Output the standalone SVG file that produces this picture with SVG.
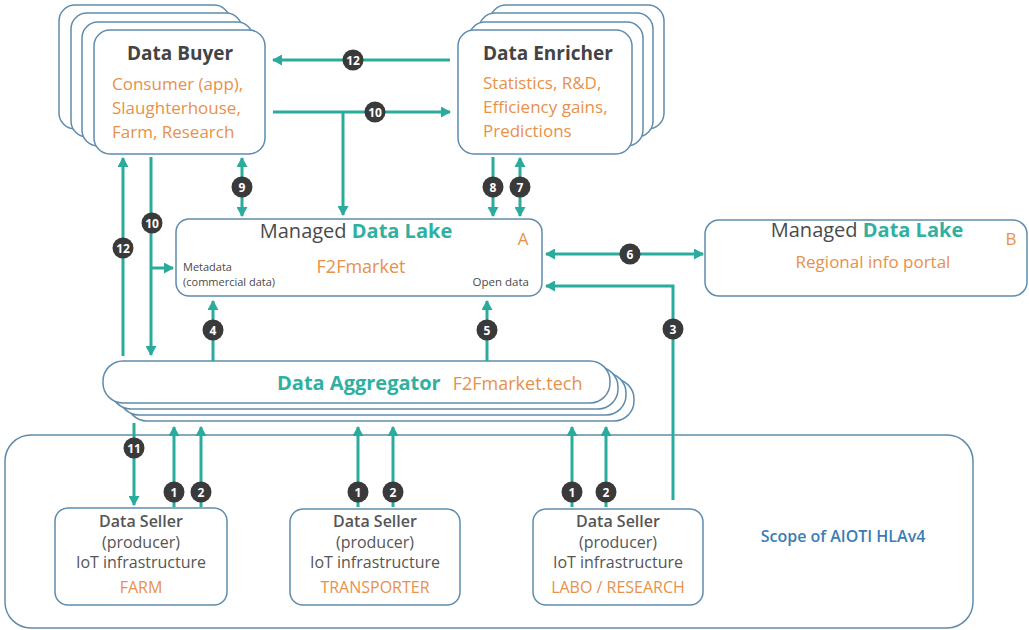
<svg xmlns="http://www.w3.org/2000/svg" width="1029" height="630" viewBox="0 0 1029 630">
<defs>
<marker id="ah" markerUnits="userSpaceOnUse" markerWidth="10" markerHeight="11" refX="9" refY="5.5" orient="auto-start-reverse">
<path d="M0,0 L10,5.5 L0,11 z" fill="#2aab9c"/>
</marker>
</defs>
<style>
.box{fill:#fff;stroke:#5f8cad;stroke-width:1.5}
.ln{fill:none;stroke:#2aab9c;stroke-width:3}
.b circle{fill:#3a3a3a}
.b text{fill:#fff;font-family:"Open Sans","DejaVu Sans",sans-serif;font-weight:700;font-size:12px;text-anchor:middle}
.t{font-family:"Open Sans","Noto Sans",sans-serif}
.ttl{font-weight:700;fill:#444;font-size:19px}
.tl{fill:#2fb0a0;font-weight:700}
.dk{fill:#4a4a4a}
.sel{fill:#555;font-size:16px;text-anchor:middle}
.or,.sel.or{fill:#e8914a}
</style>
<rect width="1029" height="630" fill="#fff"/>

<g id="scope">
<rect class="box" x="5" y="435" width="968" height="193" rx="26"/>
<text class="t" x="843" y="542" font-size="16" font-weight="600" fill="#3a7db5" text-anchor="middle">Scope of AIOTI HLAv4</text>
</g>

<g id="data-buyer">
<rect class="box" x="59" y="5" width="171" height="124" rx="16"/>
<rect class="box" x="71" y="13" width="171" height="124" rx="16"/>
<rect class="box" x="82" y="22" width="171" height="124" rx="16"/>
<rect class="box" x="94" y="30" width="171" height="124" rx="16"/>
<text class="t ttl" x="180" y="60" text-anchor="middle">Data Buyer</text>
<text class="t or" font-size="17"><tspan x="112" y="90">Consumer (app),</tspan><tspan x="112" y="114">Slaughterhouse,</tspan><tspan x="112" y="138">Farm, Research</tspan></text>
</g>

<g id="data-enricher">
<rect class="box" x="490" y="5" width="174" height="124" rx="16"/>
<rect class="box" x="479" y="13" width="174" height="124" rx="16"/>
<rect class="box" x="469" y="22" width="174" height="124" rx="16"/>
<rect class="box" x="458" y="30" width="174" height="124" rx="16"/>
<text class="t ttl" x="483" y="60">Data Enricher</text>
<text class="t or" font-size="17"><tspan x="483" y="89">Statistics, R&amp;D,</tspan><tspan x="483" y="113">Efficiency gains,</tspan><tspan x="483" y="137">Predictions</tspan></text>
</g>

<g id="data-lake-a">
<rect class="box" x="176" y="219" width="366" height="77" rx="13"/>
<text class="t" x="356" y="238" font-size="20" text-anchor="middle"><tspan class="dk">Managed </tspan><tspan class="tl">Data Lake</tspan></text>
<text class="t or" x="523" y="245" font-size="17" text-anchor="middle">A</text>
<text class="t or" x="361" y="273" font-size="18" text-anchor="middle">F2Fmarket</text>
<text class="t dk" font-size="11"><tspan x="183" y="271">Metadata</tspan><tspan x="183" y="286">(commercial data)</tspan></text>
<text class="t dk" x="529" y="286" font-size="11.5" text-anchor="end">Open data</text>
</g>

<g id="data-lake-b">
<rect class="box" x="705" y="220" width="322" height="76" rx="14"/>
<text class="t" x="867" y="237" font-size="20" text-anchor="middle"><tspan class="dk">Managed </tspan><tspan class="tl">Data Lake</tspan></text>
<text class="t or" x="1011" y="245" font-size="17" text-anchor="middle">B</text>
<text class="t or" x="873" y="268" font-size="17" text-anchor="middle">Regional info portal</text>
</g>

<g id="data-aggregator">
<rect class="box" x="127" y="379" width="507" height="42" rx="20"/>
<rect class="box" x="119" y="373" width="507" height="42" rx="20"/>
<rect class="box" x="111" y="367" width="507" height="42" rx="20"/>
<rect class="box" x="103" y="361" width="507" height="42" rx="20"/>
<text class="t" x="277" y="390" font-size="20"><tspan class="tl">Data Aggregator</tspan><tspan class="or" font-size="18" dx="12">F2Fmarket.tech</tspan></text>
</g>

<g id="seller-farm">
<rect class="box" x="55" y="508" width="172" height="97" rx="13"/>
<text class="t sel" x="141" y="527" font-weight="600">Data Seller</text>
<text class="t sel" x="141" y="548">(producer)</text>
<text class="t sel" x="141" y="568">IoT infrastructure</text>
<text class="t sel or" x="141" y="593">FARM</text>
</g>

<g id="seller-transporter">
<rect class="box" x="290" y="509" width="170" height="96" rx="13"/>
<text class="t sel" x="375" y="527" font-weight="600">Data Seller</text>
<text class="t sel" x="375" y="548">(producer)</text>
<text class="t sel" x="375" y="568">IoT infrastructure</text>
<text class="t sel or" x="375" y="593">TRANSPORTER</text>
</g>

<g id="seller-labo">
<rect class="box" x="533" y="509" width="170" height="96" rx="13"/>
<text class="t sel" x="618" y="527" font-weight="600">Data Seller</text>
<text class="t sel" x="618" y="548">(producer)</text>
<text class="t sel" x="618" y="568">IoT infrastructure</text>
<text class="t sel or" x="618" y="593">LABO / RESEARCH</text>
</g>

<g id="connectors">
<path class="ln" d="M450,60 H273" marker-end="url(#ah)"/>
<path class="ln" d="M273,112 H450" marker-end="url(#ah)"/>
<path class="ln" d="M343,112 V215" marker-end="url(#ah)"/>
<path class="ln" d="M242,158 V216" marker-start="url(#ah)" marker-end="url(#ah)"/>
<path class="ln" d="M493,157 V216" marker-end="url(#ah)"/>
<path class="ln" d="M520,158 V216" marker-start="url(#ah)" marker-end="url(#ah)"/>
<path class="ln" d="M123,356 V158" marker-end="url(#ah)"/>
<path class="ln" d="M151,157 V355" marker-end="url(#ah)"/>
<path class="ln" d="M151,268 H173" marker-end="url(#ah)"/>
<path class="ln" d="M213,361 V301" marker-end="url(#ah)"/>
<path class="ln" d="M487,361 V301" marker-end="url(#ah)"/>
<path class="ln" d="M546,254 H703" marker-start="url(#ah)" marker-end="url(#ah)"/>
<path class="ln" d="M673,500 V286 H546" marker-end="url(#ah)"/>
<path class="ln" d="M134,423 V505" marker-end="url(#ah)"/>
<path class="ln" d="M174,507 V427" marker-end="url(#ah)"/>
<path class="ln" d="M201,507 V427" marker-end="url(#ah)"/>
<path class="ln" d="M358,507 V427" marker-end="url(#ah)"/>
<path class="ln" d="M393,507 V427" marker-end="url(#ah)"/>
<path class="ln" d="M572,507 V427" marker-end="url(#ah)"/>
<path class="ln" d="M606,507 V427" marker-end="url(#ah)"/>
</g>

<g id="badges" class="b">
<circle cx="353" cy="60" r="10.5"/><text x="353" y="64.5" font-size="11">12</text>
<circle cx="375" cy="112" r="10.5"/><text x="375" y="116.5" font-size="11">10</text>
<circle cx="242" cy="187" r="10.5"/><text x="242" y="191.5">9</text>
<circle cx="493" cy="187" r="10.5"/><text x="493" y="191.5">8</text>
<circle cx="520" cy="187" r="10.5"/><text x="520" y="191.5">7</text>
<circle cx="152" cy="223" r="10.5"/><text x="152" y="227.5" font-size="11">10</text>
<circle cx="123" cy="248" r="10.5"/><text x="123" y="252.5" font-size="11">12</text>
<circle cx="630" cy="254" r="10.5"/><text x="630" y="258.5">6</text>
<circle cx="213" cy="330" r="10.5"/><text x="213" y="334.5">4</text>
<circle cx="487" cy="330" r="10.5"/><text x="487" y="334.5">5</text>
<circle cx="673" cy="329" r="10.5"/><text x="673" y="333.5">3</text>
<circle cx="134" cy="448" r="10.5"/><text x="134" y="452.5" font-size="11">11</text>
<circle cx="174" cy="492" r="10.5"/><text x="174" y="496.5">1</text>
<circle cx="201" cy="492" r="10.5"/><text x="201" y="496.5">2</text>
<circle cx="358" cy="492" r="10.5"/><text x="358" y="496.5">1</text>
<circle cx="393" cy="492" r="10.5"/><text x="393" y="496.5">2</text>
<circle cx="572" cy="492" r="10.5"/><text x="572" y="496.5">1</text>
<circle cx="606" cy="492" r="10.5"/><text x="606" y="496.5">2</text>
</g>
</svg>
